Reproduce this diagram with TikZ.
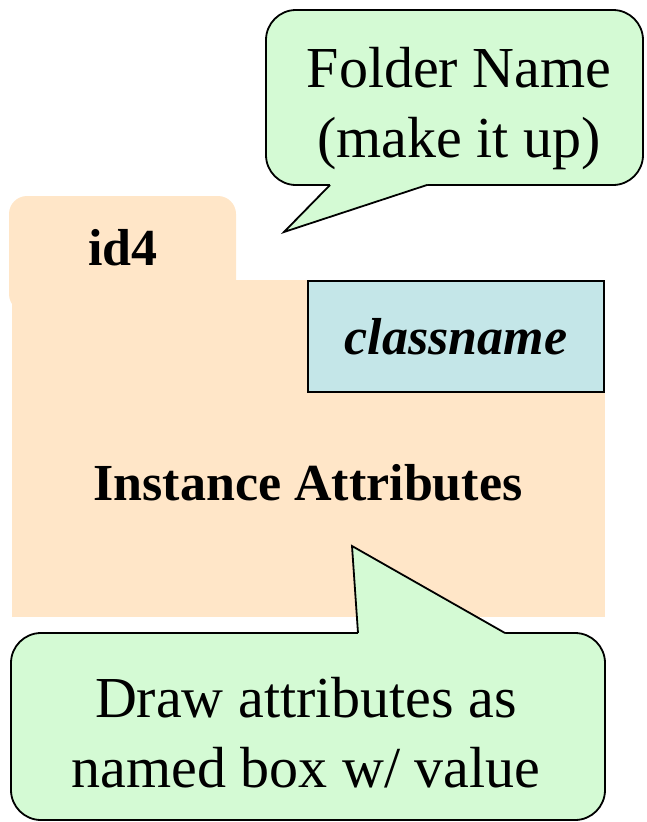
\documentclass[tikz,border=0pt]{standalone}
\usepackage{fontspec}
\setmainfont{Liberation Serif}
\definecolor{beige}{RGB}{255,230,200}
\definecolor{callgreen}{RGB}{212,250,212}
\definecolor{clscyan}{RGB}{196,230,232}
\tikzset{
  calloutbox/.style={fill=callgreen, draw=black, line width=1.8pt, rounded corners=30pt},
  bigtext/.style={font=\fontsize{58}{70}\selectfont, align=center, inner sep=0pt},
  boldtext/.style={font=\fontsize{52}{62}\selectfont\bfseries, inner sep=0pt},
}
\begin{document}
\begin{tikzpicture}[x=1pt,y=-1pt]
\useasboundingbox (0,0) rectangle (646,822);
% folder
\fill[beige, rounded corners=18pt] (9,196) rectangle (236,312);
\fill[beige] (12,280) rectangle (605,617);
\node[boldtext, anchor=base] (id) at (123,265) {id4};
\node[draw=black, line width=2pt, fill=clscyan, minimum width=296pt, minimum height=111pt, inner sep=0pt,
      font=\fontsize{52}{62}\selectfont\bfseries\itshape] (cls) at (456,336.5) {classname};
\node[boldtext, anchor=base] (attr) at (308,500) {Instance Attributes};
% top callout
\draw[calloutbox] (266,10) rectangle (643,185);
\coordinate (t1a) at (330,185);
\coordinate (t1tip) at (284,232);
\coordinate (t1b) at (427,185);
\fill[callgreen] (330,182) -- (330,185) -- (t1tip) -- (427,185) -- (427,182) -- cycle;
\draw[line width=1.8pt, line join=miter] (t1a) -- (t1tip) -- (t1b);
\node[bigtext, anchor=base] (c1) at (459,157) {Folder Name\\(make it up)};
% bottom callout
\draw[calloutbox] (11,633) rectangle (605,820);
\coordinate (t2a) at (358,633);
\coordinate (t2tip) at (352,546);
\coordinate (t2b) at (505,633);
\fill[callgreen] (358,636) -- (358,633) -- (t2tip) -- (505,633) -- (505,636) -- cycle;
\draw[line width=1.8pt, line join=miter] (t2a) -- (t2tip) -- (t2b);
\node[bigtext, anchor=base] (c2) at (306,787) {Draw attributes as\\named box w/ value};
\end{tikzpicture}
\end{document}
